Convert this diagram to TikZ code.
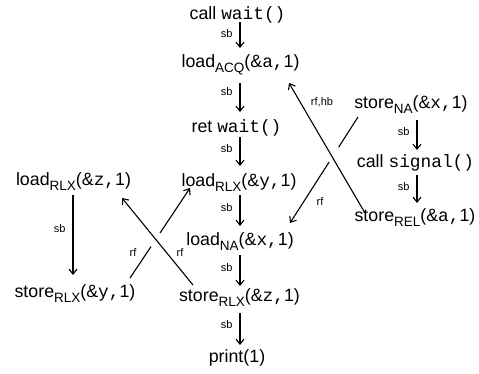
\documentclass[tikz,border=0pt]{standalone}
\usepackage{fontspec}
\setmainfont{Liberation Sans}
\newfontfamily\monofam{Liberation Mono}
\usetikzlibrary{arrows.meta,calc}
\newcommand\code[1]{{\monofam #1}}
\newcommand\mysub[1]{\raisebox{-5.5pt}{\fontsize{13.5}{14}\selectfont #1}}
\tikzset{
  lab/.style={font=\fontsize{17.8}{20}\selectfont, inner sep=0pt, anchor=base},
  rel/.style={font=\fontsize{11}{12}\selectfont, inner sep=0pt},
  ln/.style={line width=1.1pt},
  arr/.style={line width=1.1pt, -{Straight Barb[length=5pt,width=8pt]}},
}
\begin{document}
\begin{tikzpicture}[x=1pt,y=-1pt]
\useasboundingbox (0,0) rectangle (479,373);
% centre column
\node[lab] (callwait) at (237.5,19) {call \code{wait()}};
\node[lab] (loadACQ) at (240.5,67) {load\mysub{ACQ}(\&\code{a,}1)};
\node[lab] (retwait) at (236.5,132) {ret \code{wait()}};
\node[lab] (loadRLXy) at (239,186) {load\mysub{RLX}(\&\code{y,}1)};
\node[lab] (loadNA) at (240,245) {load\mysub{NA}(\&\code{x,}1)};
\node[lab] (storeRLXz) at (239.5,301) {store\mysub{RLX}(\&\code{z,}1)};
\node[lab] (print) at (237,362) {print(1)};
% left column
\node[lab] (loadRLXz) at (73.5,185) {load\mysub{RLX}(\&\code{z,}1)};
\node[lab] (storeRLXy) at (75,297) {store\mysub{RLX}(\&\code{y,}1)};
% right column
\node[lab] (storeNA) at (411,108) {store\mysub{NA}(\&\code{x,}1)};
\node[lab] (callsignal) at (415.5,167) {call \code{signal()}};
\node[lab] (storeREL) at (415,221) {store\mysub{REL}(\&\code{a,}1)};

% sb arrows centre
\draw[arr] ([shift={(2.5,3)}]callwait.base) -- node[rel,left=7pt,pos=0.45] (sb1) {sb} ([shift={(-0.5,-19)}]loadACQ.base);
\draw[arr] ([shift={(-0.5,16)}]loadACQ.base) -- node[rel,left=7pt,pos=0.3] (sb2) {sb} ([shift={(3.5,-20)}]retwait.base);
\draw[arr] ([shift={(3.5,5)}]retwait.base) -- node[rel,left=7pt,pos=0.4] (sb3) {sb} ([shift={(1,-20)}]loadRLXy.base);
\draw[arr] ([shift={(1,9)}]loadRLXy.base) -- node[rel,left=7pt,pos=0.4] (sb4) {sb} ([shift={(0,-19)}]loadNA.base);
\draw[arr] ([shift={(0,10)}]loadNA.base) -- node[rel,left=7pt,pos=0.4] (sb5) {sb} ([shift={(0.5,-15)}]storeRLXz.base);
\draw[arr] ([shift={(0.5,12)}]storeRLXz.base) -- node[rel,left=7pt,pos=0.35] (sb6) {sb} ([shift={(3,-17)}]print.base);
% sb left
\draw[arr] ([shift={(-0.5,10)}]loadRLXz.base) -- node[rel,left=7pt,pos=0.42] (sb7) {sb} ([shift={(-2,-22)}]storeRLXy.base);
% sb right
\draw[arr] ([shift={(6,12)}]storeNA.base) -- node[rel,left=7pt,pos=0.4] (sb8) {sb} ([shift={(1.5,-17)}]callsignal.base);
\draw[arr] ([shift={(1.5,8)}]callsignal.base) -- node[rel,left=7pt,pos=0.4] (sb9) {sb} ([shift={(2,-18)}]storeREL.base);

% rf,hb : storeREL -> loadACQ
\draw[arr] ([shift={(-50,-8)}]storeREL.base) -- ([shift={(48.5,16)}]loadACQ.base);
\node[rel] (rfhb) at (322,102) {rf,hb};
% rf : storeNA -> loadNA (broken)
\path ([shift={(-53,9)}]storeNA.base) coordinate (l2s) -- ([shift={(50,-22)}]loadNA.base) coordinate (l2e);
\draw[ln] (l2s) -- ($(l2s)!0.285!(l2e)$);
\draw[arr] ($(l2s)!0.425!(l2e)$) -- (l2e);
\node[rel] (rf1) at (320,202) {rf};
% rf : storeRLXy -> loadRLXy (broken)
\path ([shift={(55,-19)}]storeRLXy.base) coordinate (l3s) -- ([shift={(-49,2)}]loadRLXy.base) coordinate (l3e);
\draw[ln] (l3s) -- ($(l3s)!0.35!(l3e)$);
\draw[arr] ($(l3s)!0.5!(l3e)$) -- (l3e);
\node[rel] (rf2) at (133,253) {rf};
% rf : storeRLXz -> loadRLXz
\draw[arr] ([shift={(-46.5,-16)}]storeRLXz.base) -- ([shift={(48.5,13)}]loadRLXz.base);
\node[rel] (rf3) at (180,253) {rf};
\end{tikzpicture}
\end{document}
